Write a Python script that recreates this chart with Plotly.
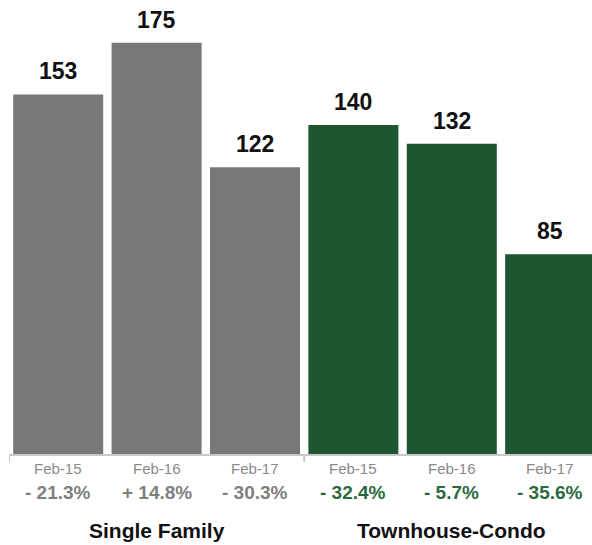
import plotly.graph_objects as go

periods = ["Feb-15", "Feb-16", "Feb-17", "Feb-15", "Feb-16", "Feb-17"]
values = [153, 175, 122, 140, 132, 85]
changes = ["- 21.3%", "+ 14.8%", "- 30.3%", "- 32.4%", "- 5.7%", "- 35.6%"]
groups = ["Single Family", "Townhouse-Condo"]
group_of = [0, 0, 0, 1, 1, 1]

GRAY = "#777877"
GREEN = "#1f5632"
bar_colors = [GRAY if g == 0 else GREEN for g in group_of]
change_colors = ["#808080" if g == 0 else "#2a6a3e" for g in group_of]

xs = list(range(len(values)))
FONT = "Liberation Sans, Arial, Helvetica, sans-serif"

fig = go.Figure(go.Bar(x=xs, y=values, marker=dict(color=bar_colors, line=dict(width=0)),
                       width=0.915, hoverinfo="skip"))

plot_h = 454
annotations = []
for i, v in enumerate(values):
    annotations.append(dict(x=i, y=v, xref="x", yref="y", text=f"<b>{v}</b>", showarrow=False,
                            yanchor="bottom", yshift=8, font=dict(size=23, color="#111111", family=FONT)))
    annotations.append(dict(x=i, y=-(469 - plot_h) / plot_h, xref="x", yref="paper", text=periods[i],
                            showarrow=False, yanchor="middle",
                            font=dict(size=15, color="#8a8a8a", family=FONT)))
    annotations.append(dict(x=i, y=-(493 - plot_h) / plot_h, xref="x", yref="paper", text=f"<b>{changes[i]}</b>",
                            showarrow=False, yanchor="middle",
                            font=dict(size=19, color=change_colors[i], family=FONT)))
for gi, g in enumerate(groups):
    members = [i for i in xs if group_of[i] == gi]
    cx = sum(members) / len(members)
    annotations.append(dict(x=cx, y=-(530 - plot_h) / plot_h, xref="x", yref="paper", text=f"<b>{g}</b>",
                            showarrow=False, yanchor="middle",
                            font=dict(size=21, color="#111111", family=FONT)))

shapes = []
for bx in [-0.5, 2.5]:
    shapes.append(dict(type="line", xref="x", yref="paper", x0=bx, x1=bx, y0=0, y1=-8 / plot_h,
                       line=dict(color="#c8c8c8", width=2)))

fig.update_layout(
    width=592, height=545,
    margin=dict(l=8.7, r=0, t=0, b=545 - plot_h, pad=0),
    plot_bgcolor="white", paper_bgcolor="white",
    showlegend=False,
    xaxis=dict(range=[-0.5, 5.425], showticklabels=False, ticks="", showgrid=False, zeroline=False,
               showline=True, linecolor="#c8c8c8", linewidth=2, fixedrange=True),
    yaxis=dict(range=[0, 193.2], visible=False, showgrid=False, zeroline=False, fixedrange=True),
    annotations=annotations, shapes=shapes,
    font=dict(family=FONT),
)
fig.write_html("out.html", config={"displayModeBar": False})
